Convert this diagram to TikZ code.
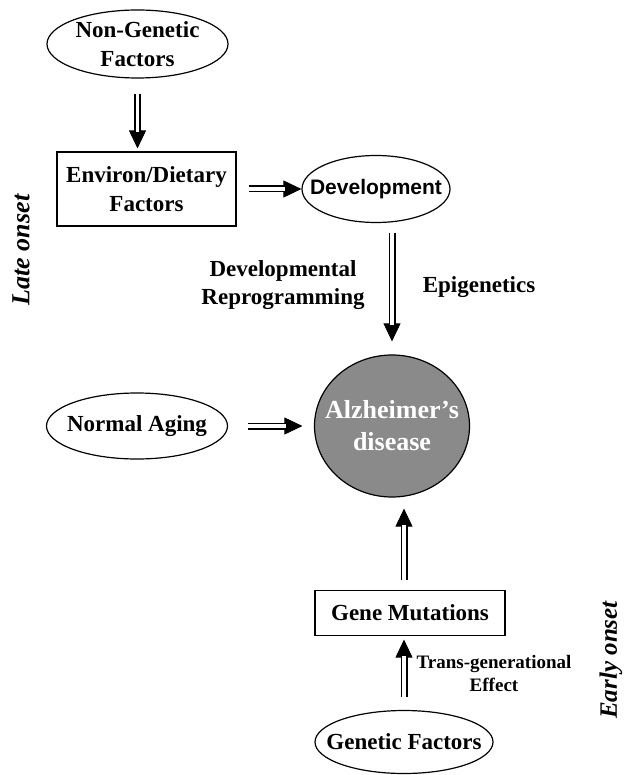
\documentclass[tikz,border=0pt]{standalone}
\usepackage{fontspec}
\setmainfont{Liberation Serif}
\newfontfamily\sansf{Liberation Sans}
\usetikzlibrary{shapes.geometric,arrows.meta}
\definecolor{adgray}{HTML}{8A8A8A}
\tikzset{
  ell/.style={ellipse, draw, line width=1.2pt, inner xsep=-40pt, inner ysep=-20pt, align=center,
    font=\fontsize{23}{29}\selectfont\bfseries},
  boxn/.style={rectangle, draw, line width=1.1pt, inner sep=0pt, align=center,
    font=\fontsize{23}{29}\selectfont\bfseries},
  lbl/.style={align=center, inner sep=0pt, font=\fontsize{23}{28}\selectfont\bfseries},
  tipline/.style={line width=0.8pt, -{Triangle[length=18pt,width=17pt]}},
  shaftline/.style={double, double distance=3.8pt, line width=1.6pt}
}
\newcommand\dblarr[5]{%
  \draw[tipline, shorten <=#3, shorten >=#4] #1 -- #2;
  \draw[shaftline, shorten <=#3, shorten >=#5] #1 -- #2;}
\begin{document}
\begin{tikzpicture}[x=1pt,y=-1pt]
\useasboundingbox (0,0) rectangle (633,775);
\node[ell, minimum width=181pt, minimum height=68pt] (ng) at (137.5,44) {Non-Genetic\\Factors};
\node[boxn, minimum width=179pt, minimum height=74pt] (env) at (146.5,189) {Environ/Dietary\\Factors};
\node[ell, minimum width=148pt, minimum height=67pt, font=\sansf\fontsize{21}{24}\selectfont\bfseries] (dev) at (376,189) {Development};
\node[lbl] (dr) at (283,285) {Developmental\\Reprogramming};
\node[lbl] (epi) at (479,287) {Epigenetics};
\node[ell, fill=adgray, minimum width=155pt, minimum height=142pt,
  text=white, font=\fontsize{26}{32}\selectfont\bfseries] (ad) at (392,426) {Alzheimer’s\\disease};
\node[ell, minimum width=181pt, minimum height=66pt] (na) at (137,426) {Normal Aging};
\node[boxn, minimum width=190pt, minimum height=45pt] (gm) at (410,613) {Gene Mutations};
\node[lbl, font=\fontsize{19}{23}\selectfont\bfseries] (tg) at (494,673) {Trans-generational\\Effect};
\node[ell, minimum width=178pt, minimum height=63pt] (gf) at (404,742) {Genetic Factors};
\node[rotate=90, inner sep=0pt, font=\fontsize{26}{30}\selectfont\bfseries\itshape] (late) at (21,250) {Late onset};
\node[rotate=90, inner sep=0pt, font=\fontsize{25}{30}\selectfont\bfseries\itshape] (early) at (611,660) {Early onset};
% arrows
\dblarr{(ng.south)}{(env.north -| ng.south)}{15pt}{3pt}{19pt}
\dblarr{(env.east)}{(dev.west)}{12pt}{0pt}{16pt}
\dblarr{(dev.south -| ad.north)}{(ad.north)}{10pt}{13pt}{29pt}
\dblarr{(na.east)}{(ad.west)}{20pt}{11.5pt}{27.5pt}
\dblarr{(gm.north -| gf.north)}{(ad.south -| gf.north)}{10pt}{11pt}{27pt}
\dblarr{(gf.north)}{(gm.south -| gf.north)}{13pt}{3.5pt}{19.5pt}
\end{tikzpicture}
\end{document}
